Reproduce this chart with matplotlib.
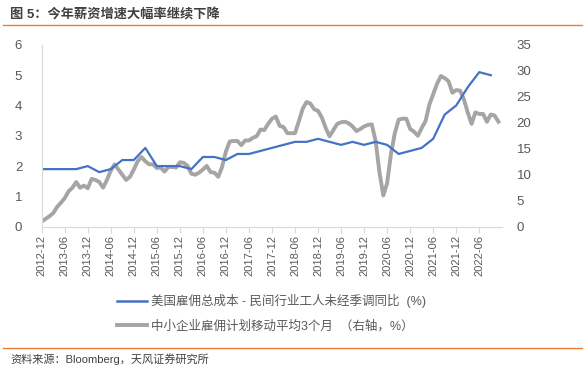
import numpy as np
import matplotlib
matplotlib.use("Agg")
import matplotlib.pyplot as plt
from matplotlib.lines import Line2D

plt.rcParams['font.family'] = ['Liberation Sans', 'Noto Sans CJK SC', 'DejaVu Sans']

# monthly index from 2012-12 (0) to 2022-11 (119)
tick_labels = ["2012-12", "2013-06", "2013-12", "2014-06", "2014-12", "2015-06",
               "2015-12", "2016-06", "2016-12", "2017-06", "2017-12", "2018-06",
               "2018-12", "2019-06", "2019-12", "2020-06", "2020-12", "2021-06",
               "2021-12", "2022-06"]

# employment cost index, private industry wages, quarterly (left axis)
eci = [1.9, 1.9, 1.9, 1.9, 2.0, 1.8, 1.9, 2.2, 2.2, 2.6, 2.0, 2.0,
       2.0, 1.9, 2.3, 2.3, 2.2, 2.4, 2.4, 2.5, 2.6, 2.7, 2.8, 2.8,
       2.9, 2.8, 2.7, 2.8, 2.7, 2.8, 2.7, 2.4, 2.5, 2.6, 2.9, 3.7,
       4.0, 4.6, 5.1, 5.0]

# small business hiring plans, 3m moving average, monthly (right axis)
hiring = [1.0, 1.5, 2.0, 2.6, 3.8, 4.6, 5.5, 6.8, 7.5, 8.6,
          7.5, 7.9, 7.4, 9.2, 9.0, 8.6, 7.5, 9.0, 10.8, 12.0,
          11.0, 10.0, 9.0, 9.6, 11.0, 12.6, 13.4, 12.6, 12.0, 12.0,
          11.3, 11.4, 10.6, 11.5, 11.5, 11.4, 12.4, 12.3, 11.7, 10.2,
          10.0, 10.4, 11.0, 11.7, 10.5, 10.4, 9.6, 11.5, 14.5, 16.4,
          16.5, 16.5, 15.7, 16.6, 16.6, 17.1, 17.4, 18.7, 18.6, 19.8,
          20.8, 21.2, 19.4, 19.2, 18.0, 18.0, 18.0, 20.3, 22.7, 24.0,
          23.7, 22.6, 22.3, 21.0, 19.0, 17.4, 18.6, 19.8, 20.1, 20.2,
          19.9, 19.3, 18.4, 18.8, 19.3, 19.6, 19.7, 16.5, 10.5, 6.0,
          8.4, 14.0, 18.0, 20.6, 20.8, 20.8, 18.8, 18.3, 17.5, 19.0,
          20.3, 23.5, 25.5, 27.5, 29.0, 28.6, 28.0, 25.8, 26.3, 26.2,
          24.5, 22.0, 19.8, 22.0, 21.7, 21.7, 20.2, 21.6, 21.4, 20.2]

label_eci = "美国雇佣总成本 - 民间行业工人未经季调同比  (%)"
label_hiring = "中小企业雇佣计划移动平均3个月  （右轴，%）"

text_color = "#595959"
axis_color = "#d9d9d9"

fig = plt.figure(figsize=(5.88, 3.71), dpi=100)
ax = fig.add_axes([0.0709, 0.389, 0.782, 0.490])
ax2 = ax.twinx()

x_eci = np.arange(len(eci)) * 3
x_hiring = np.arange(len(hiring))

ax2.plot(x_hiring, hiring, color="#a5a5a5", lw=2.8, solid_joinstyle="round")
ax.plot(x_eci, eci, color="#4472c4", lw=1.6)
# blue line on top of the grey one
ax.set_zorder(ax2.get_zorder() + 1)
ax.patch.set_visible(False)

ax.set_xlim(0, 119.8)
ax.set_ylim(0, 6)
ax2.set_ylim(0, 35)
ax.set_yticks(range(0, 7))
ax2.set_yticks(range(0, 36, 5))
ax.set_xticks(np.arange(len(tick_labels)) * 6)
ax.set_xticklabels(tick_labels, rotation=90)

for a in (ax, ax2):
    for s in a.spines.values():
        s.set_visible(False)
ax.spines['bottom'].set_visible(True)
ax.spines['left'].set_visible(True)
ax.spines['bottom'].set_color(axis_color)
ax.spines['left'].set_color(axis_color)

ax.tick_params(axis='x', colors=axis_color, labelcolor=text_color, labelsize=8,
               length=4, direction='out', pad=2)
ax.tick_params(axis='y', length=0, labelcolor=text_color, labelsize=9.5, pad=14)
ax2.tick_params(axis='y', length=0, labelcolor=text_color, labelsize=9.5, pad=11)

handles = [Line2D([], [], color="#4472c4", lw=1.8),
           Line2D([], [], color="#a5a5a5", lw=2.8)]
fig.legend(handles, [label_eci, label_hiring], loc='upper left',
           bbox_to_anchor=(0.18, 0.237), bbox_transform=fig.transFigure,
           frameon=False, fontsize=9, handlelength=2.4, handletextpad=0.35,
           labelspacing=0.95, labelcolor=text_color)

fig.text(0.017, 0.962, "图 5：今年薪资增速大幅率继续下降", fontsize=9.5, fontweight='bold',
         color="#404040", va='center', ha='left')
fig.add_artist(Line2D([0.005, 0.99], [0.933, 0.933], color="#ed7d31", lw=1.0,
                      transform=fig.transFigure))
fig.add_artist(Line2D([0.005, 0.99], [0.061, 0.061], color="#ed7d31", lw=1.0,
                      transform=fig.transFigure))
fig.text(0.017, 0.032, "资料来源：Bloomberg，天风证券研究所", fontsize=8,
         color="#404040", va='center', ha='left')

fig.savefig("out.png", dpi=100)
